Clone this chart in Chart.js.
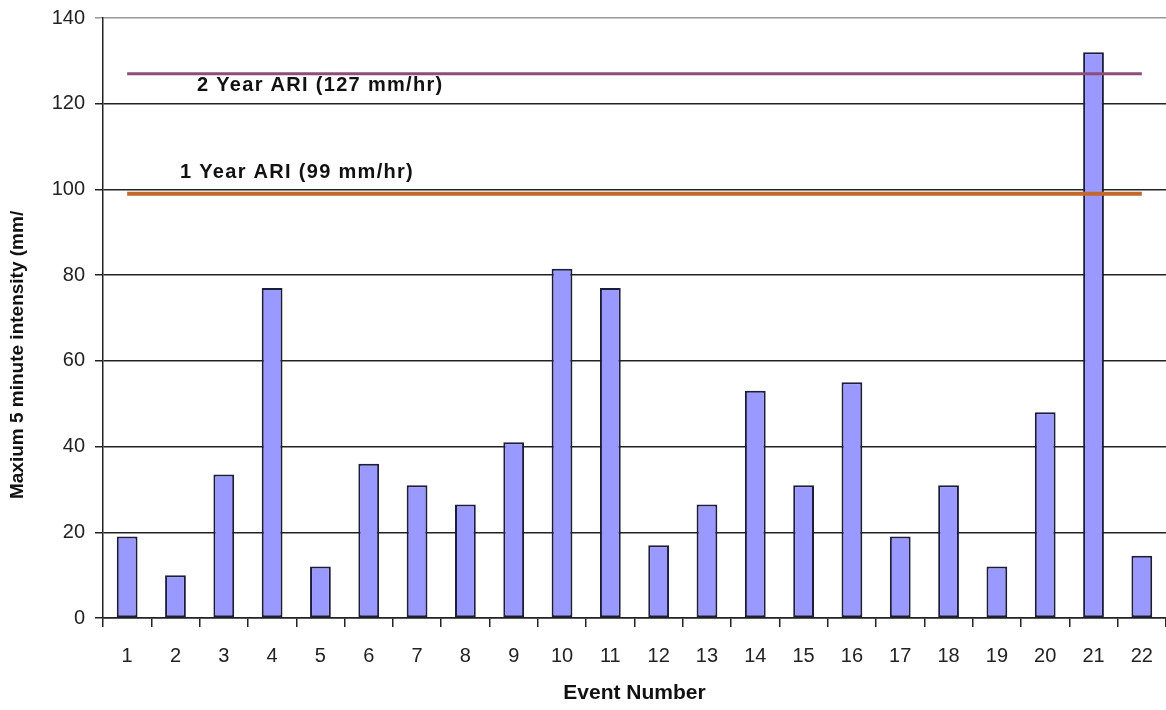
<!DOCTYPE html>
<html>
<head>
<meta charset="utf-8">
<script src="https://cdn.jsdelivr.net/npm/chart.js@4"></script>
<style>
  html, body { margin: 0; padding: 0; overflow: hidden; background: #fff; }
  #wrap { width: 1170px; height: 710px; }
</style>
</head>
<body>
<div id="wrap"><canvas id="display_graph"></canvas></div>
<script>
const events = ["1", "2", "3", "4", "5", "6", "7", "8", "9", "10", "11",
  "12", "13", "14", "15", "16", "17", "18", "19", "20", "21", "22"];
const intensity = [19, 10, 33.5, 77, 12, 36, 31, 26.5, 41, 81.5, 77,
  17, 26.5, 53, 31, 55, 19, 31, 12, 48, 132, 14.5];
const ari2 = 127;
const ari1 = 99;
const ari2Label = "2 Year ARI (127 mm/hr)";
const ari1Label = "1 Year ARI (99 mm/hr)";

const fontFam = "'Liberation Sans', Arial, sans-serif";
const ctx = document.getElementById("display_graph").getContext("2d");

// text labels sitting next to the ARI lines
const ariLabels = {
  id: "ariLabels",
  afterDatasetsDraw(chart) {
    const c = chart.ctx;
    const y = chart.scales.y;
    const left = chart.chartArea.left;
    c.save();
    c.fillStyle = "#111";
    c.font = "bold 20px " + fontFam;
    c.letterSpacing = "1.3px";
    c.textBaseline = "middle";
    c.textAlign = "left";
    c.fillText(ari2Label, left + 94, y.getPixelForValue(ari2) + 12);
    c.fillText(ari1Label, left + 77, y.getPixelForValue(ari1) - 21);
    c.restore();
  }
};

const data = {
  labels: events,
  datasets: [
    {
      type: "line",
      label: ari2Label,
      data: events.map(() => ari2),
      borderColor: "#8e4c7c",
      borderWidth: 3,
      pointRadius: 0,
      order: 0
    },
    {
      type: "line",
      label: ari1Label,
      data: events.map(() => ari1),
      borderColor: "#c2682c",
      borderWidth: 4,
      pointRadius: 0,
      order: 0
    },
    {
      type: "bar",
      label: "Intensity",
      data: intensity,
      backgroundColor: "#9999ff",
      borderColor: "#1c1c3c",
      borderWidth: 2,
      borderSkipped: false,
      categoryPercentage: 1,
      barPercentage: 0.43,
      order: 1
    }
  ]
};

const options = {
  responsive: true,
  maintainAspectRatio: false,
  animation: false,
  layout: { padding: { top: 18, right: 2, left: 0, bottom: 0 } },
  plugins: {
    legend: { display: false },
    tooltip: { enabled: false }
  },
  scales: {
    x: {
      offset: true,
      grid: {
        offset: true,
        drawOnChartArea: false,
        drawTicks: true,
        tickLength: 9,
        color: "#222",
        lineWidth: 1.5
      },
      border: { color: "#222", width: 1.5 },
      ticks: {
        color: "#222",
        padding: 17,
        font: { size: 20, family: fontFam },
        maxRotation: 0
      },
      title: {
        display: true,
        text: "Event Number",
        color: "#111",
        padding: { top: 2 },
        font: { size: 21, weight: "bold", family: fontFam }
      },
      afterFit(scale) { scale.height = 92; }
    },
    y: {
      min: 0,
      max: 140,
      ticks: {
        stepSize: 20,
        color: "#222",
        padding: 10,
        font: { size: 20, family: fontFam }
      },
      grid: {
        color: (c) => c.tick && c.tick.value === 140 ? "#999" : "#222",
        lineWidth: 1.5,
        tickLength: 8
      },
      border: { color: "#222", width: 1.5 },
      title: {
        display: true,
        // title is clipped in the original; trailing spaces keep it low
        text: "Maxium 5 minute intensity (mm/              ",
        color: "#111",
        padding: { top: 6, bottom: 2 },
        font: { size: 19, weight: "bold", family: fontFam }
      },
      afterFit(scale) {
        scale.width = 103;
        scale.paddingTop = 0;
        scale.paddingBottom = 0;
      }
    }
  }
};

const eventChart = new Chart(ctx, {
  data: data,
  options: options,
  plugins: [ariLabels]
});
</script>
</body>
</html>
